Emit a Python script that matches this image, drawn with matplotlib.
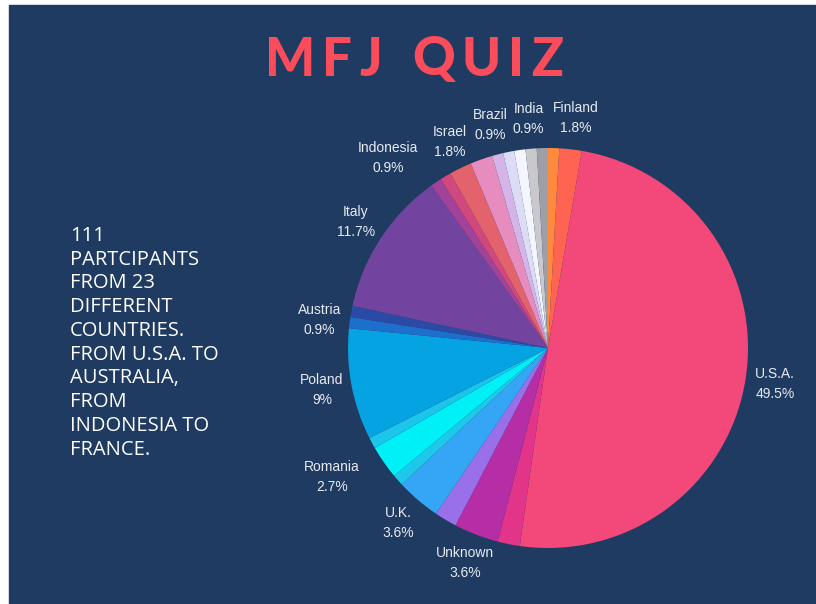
import numpy as np
import matplotlib
matplotlib.use("Agg")
import matplotlib.pyplot as plt
from matplotlib.patches import Rectangle

# --------------------
# data (participants per slice, clockwise from 12 o'clock)
# --------------------
TOTAL = 111
labels = ["", "Finland", "U.S.A.", "", "Unknown", "", "U.K.", "", "Romania", "",
          "Poland", "", "Austria", "Italy", "Indonesia", "", "Israel", "",
          "Brazil", "", "", "India", ""]
counts = [1, 2, 55, 2, 4, 2, 4, 1, 3, 1,
          10, 1, 1, 13, 1, 1, 2, 2,
          1, 1, 1, 1, 1]
colors = ["#ff8a3d", "#ff6452", "#f3497a", "#e2358a", "#b52ea5", "#9a70ea", "#35a6f5",
          "#1ec8ea", "#00f0f8", "#1cc6ea", "#06a3e2", "#1e6ecc", "#2b4aa6", "#7244a0",
          "#a24399", "#d0487e", "#e4626c", "#e78cbf", "#d5b5e8", "#dcdcf6", "#f3f5ff",
          "#c9c9cd", "#9e9ea6"]

BG = "#1f3b61"
TXT = "#e8eaf0"

# label tweaks: (angle shift in degrees, clockwise; radius)
label_tweak = {"Romania": (4, 1.26), "Austria": (-3.5, 1.15), "Indonesia": (-6, 1.24),
               "India": (0, 1.15), "Israel": (0.3, 1.14), "U.S.A.": (0, 1.15),
               "Finland": (0.5, 1.16)}

W, H = 816, 604
fig = plt.figure(figsize=(W / 100, H / 100), dpi=100, facecolor="white")
renderer = fig.canvas.get_renderer()

# navy card
fig.patches.append(Rectangle((9 / W, 0), 1 - 9 / W, 1 - 5 / H,
                             transform=fig.transFigure, color=BG, zorder=-10))

# ============================
#   TITLE (letter by letter, tracked out)
# ============================
title = "MFJ QUIZ"
letter_gap, word_gap = 7, 30
chars = []
for ch in title:
    if ch == " ":
        chars.append(None)
        continue
    t = fig.text(0, 1 - 60 / H, ch, ha="left", va="center", fontsize=38,
                 fontweight="black", family="Lato", color="#fb4c5c")
    chars.append(t)

widths = [c.get_window_extent(renderer).width if c else 0 for c in chars]
total = 0
for i, c in enumerate(chars):
    if c is None:
        total += word_gap
    else:
        total += widths[i]
        if i + 1 < len(chars) and chars[i + 1] is not None:
            total += letter_gap
x = 414 - total / 2
for i, c in enumerate(chars):
    if c is None:
        x += word_gap
        continue
    c.set_x(x / W)
    x += widths[i]
    if i + 1 < len(chars) and chars[i + 1] is not None:
        x += letter_gap

# left blurb
blurb = ["111", "PARTCIPANTS", "FROM 23", "DIFFERENT", "COUNTRIES.",
         "FROM U.S.A. TO", "AUSTRALIA,", "FROM", "INDONESIA TO", "FRANCE."]
fig.text(70 / W, 1 - 226 / H, "\n".join(blurb), ha="left", va="top",
         fontsize=14.5, family="Open Sans", color="white", linespacing=1.25)

# ============================
#   PIE
# ============================
cx, cy, r = 548, 348, 200
ax = fig.add_axes([(cx - r) / W, (H - cy - r) / H, 2 * r / W, 2 * r / H])
wedges, _ = ax.pie(counts, colors=colors, startangle=90, counterclock=False,
                   wedgeprops=dict(linewidth=0))
ax.set_xlim(-1, 1)
ax.set_ylim(-1, 1)
ax.axis("off")

for w, name, n in zip(wedges, labels, counts):
    if not name:
        continue
    mid = (w.theta1 + w.theta2) / 2
    shift, rad = label_tweak.get(name, (0, 1.15))
    a = np.deg2rad(mid - shift)
    pct = f"{n / TOTAL * 100:.1f}".rstrip("0").rstrip(".")
    ax.text(rad * np.cos(a), rad * np.sin(a), f"{name}\n{pct}%", ha="center",
            va="center", fontsize=10, family="Liberation Sans", color=TXT,
            linespacing=1.55, clip_on=False)

fig.savefig("out.png", dpi=100, facecolor=fig.get_facecolor())
